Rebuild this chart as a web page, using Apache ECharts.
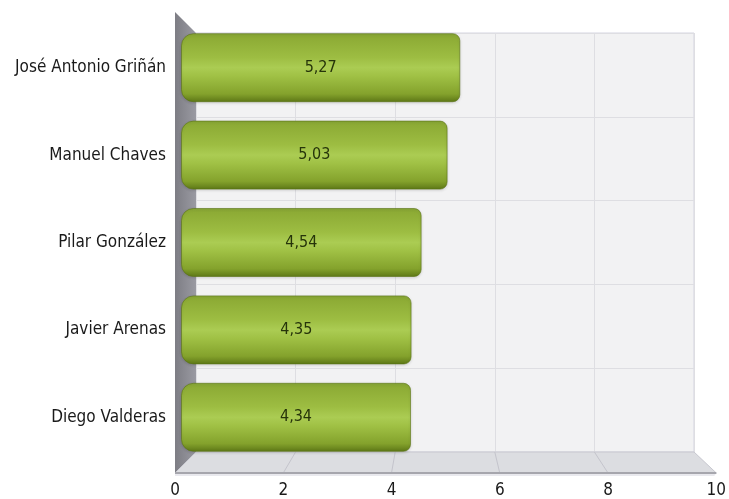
<!DOCTYPE html>
<html>
<head>
<meta charset="utf-8">
<script src="https://cdn.jsdelivr.net/npm/echarts@6/dist/echarts.min.js"></script>
<style>
html,body{margin:0;padding:0;background:#fff;}
#c{width:729px;height:499px;}
</style>
</head>
<body>
<div id="c"></div>
<script>
const categories = ["José Antonio Griñán", "Manuel Chaves", "Pilar González", "Javier Arenas", "Diego Valderas"];
const values = [5.27, 5.03, 4.54, 4.35, 4.34];
const xTicks = [0, 2, 4, 6, 8, 10];

const FONT = '"DejaVu Sans Condensed", "DejaVu Sans", sans-serif';
const chart = echarts.init(document.getElementById('c'), null, {renderer: 'canvas'});

// layout: back wall, bar plane, front edge
const back = {left: 196, top: 33, width: 498, height: 419};
const bars = {left: 181, top: 24, width: 530, height: 437};
const front = {left: 175, top: 12, width: 542, height: 461};

const barGradient = new echarts.graphic.LinearGradient(0, 0, 0, 1, [
  {offset: 0, color: '#86a536'},
  {offset: 0.06, color: '#8dab35'},
  {offset: 0.35, color: '#9dbd42'},
  {offset: 0.5, color: '#abcc53'},
  {offset: 0.62, color: '#a0c145'},
  {offset: 0.88, color: '#84a22c'},
  {offset: 1, color: '#5c7616'}
]);

chart.setOption({
  animation: false,
  backgroundColor: '#ffffff',
  grid: [
    Object.assign({show: true, backgroundColor: '#f2f2f3', borderColor: '#d4d4e0', borderWidth: 1}, back),
    Object.assign({}, bars),
    Object.assign({}, front)
  ],
  xAxis: [
    {gridIndex: 0, type: 'value', min: 0, max: 10, interval: 2,
     axisLine: {show: false}, axisTick: {show: false}, axisLabel: {show: false},
     splitLine: {show: true, lineStyle: {color: '#dedee2', width: 1}}},
    {gridIndex: 1, type: 'value', min: 0, max: 10, show: false},
    {gridIndex: 2, type: 'value', min: 0, max: 10, interval: 2,
     axisLine: {show: false}, axisTick: {show: false}, splitLine: {show: false},
     axisLabel: {color: '#1a1a1a', fontSize: 17, fontFamily: FONT, margin: 13,
       formatter: v => xTicks.includes(v) ? String(v) : ''}}
  ],
  yAxis: [
    {gridIndex: 0, type: 'category', data: categories, inverse: true,
     axisLine: {show: false}, axisTick: {show: false}, axisLabel: {show: false},
     splitLine: {show: true, lineStyle: {color: '#dedee2', width: 1}}},
    {gridIndex: 1, type: 'category', data: categories, inverse: true,
     axisLine: {show: false}, axisTick: {show: false},
     axisLabel: {color: '#1a1a1a', fontSize: 17, fontFamily: FONT, margin: 15}},
    {gridIndex: 2, type: 'value', show: false}
  ],
  series: [{
    type: 'bar',
    xAxisIndex: 1, yAxisIndex: 1,
    data: values,
    barWidth: 69,
    z: 5,
    itemStyle: {
      color: barGradient,
      borderRadius: [12, 7, 7, 12],
      borderColor: 'rgba(90,115,20,0.6)',
      borderWidth: 1,
      shadowColor: 'rgba(0,0,0,0.15)', shadowBlur: 3, shadowOffsetY: 1
    },
    label: {
      show: true, position: 'inside', color: '#26340a', fontSize: 16, fontFamily: FONT,
      formatter: p => p.value.toFixed(2).replace('.', ',')
    }
  }]
});

// 3D decorations (side wall, floor, floor grid lines) derived from the axes
const bx0 = chart.convertToPixel({xAxisIndex: 0}, 0);
const bx10 = chart.convertToPixel({xAxisIndex: 0}, 10);
const fx0 = chart.convertToPixel({xAxisIndex: 2}, 0);
const fx10 = chart.convertToPixel({xAxisIndex: 2}, 10);
const backTop = back.top, backBot = back.top + back.height;
const frontTop = front.top, frontBot = front.top + front.height;

const graphics = [];
// side wall
graphics.push({
  type: 'polygon', z: 1, silent: true,
  shape: {points: [[fx0, frontTop], [bx0, backTop], [bx0, backBot], [fx0, frontBot]]},
  style: {fill: new echarts.graphic.LinearGradient(0, 0, 1, 0, [
    {offset: 0, color: '#7d7d84'}, {offset: 1, color: '#9a9aa2'}])}
});
// floor
graphics.push({
  type: 'polygon', z: 1, silent: true,
  shape: {points: [[bx0, backBot], [bx10, backBot], [fx10, frontBot], [fx0, frontBot]]},
  style: {fill: '#dcdde1', stroke: '#c8c8d0', lineWidth: 1}
});
// floor thickness / front edge
graphics.push({
  type: 'polygon', z: 1, silent: true,
  shape: {points: [[fx0, frontBot], [fx10, frontBot], [fx10 - 2, frontBot + 3], [fx0, frontBot + 3]]},
  style: {fill: '#e9e9ee'}
});
graphics.push({
  type: 'line', z: 2, silent: true,
  shape: {x1: fx0, y1: frontBot, x2: fx10, y2: frontBot},
  style: {stroke: '#a6a6ad', lineWidth: 2}
});
// floor grid lines
xTicks.forEach(v => {
  if (v === 0 || v === 10) return;
  const bx = chart.convertToPixel({xAxisIndex: 0}, v);
  const fx = chart.convertToPixel({xAxisIndex: 2}, v);
  graphics.push({
    type: 'line', z: 1, silent: true,
    shape: {x1: bx, y1: backBot, x2: fx, y2: frontBot},
    style: {stroke: '#c4c4cc', lineWidth: 1}
  });
});
chart.setOption({graphic: graphics});
</script>
</body>
</html>
